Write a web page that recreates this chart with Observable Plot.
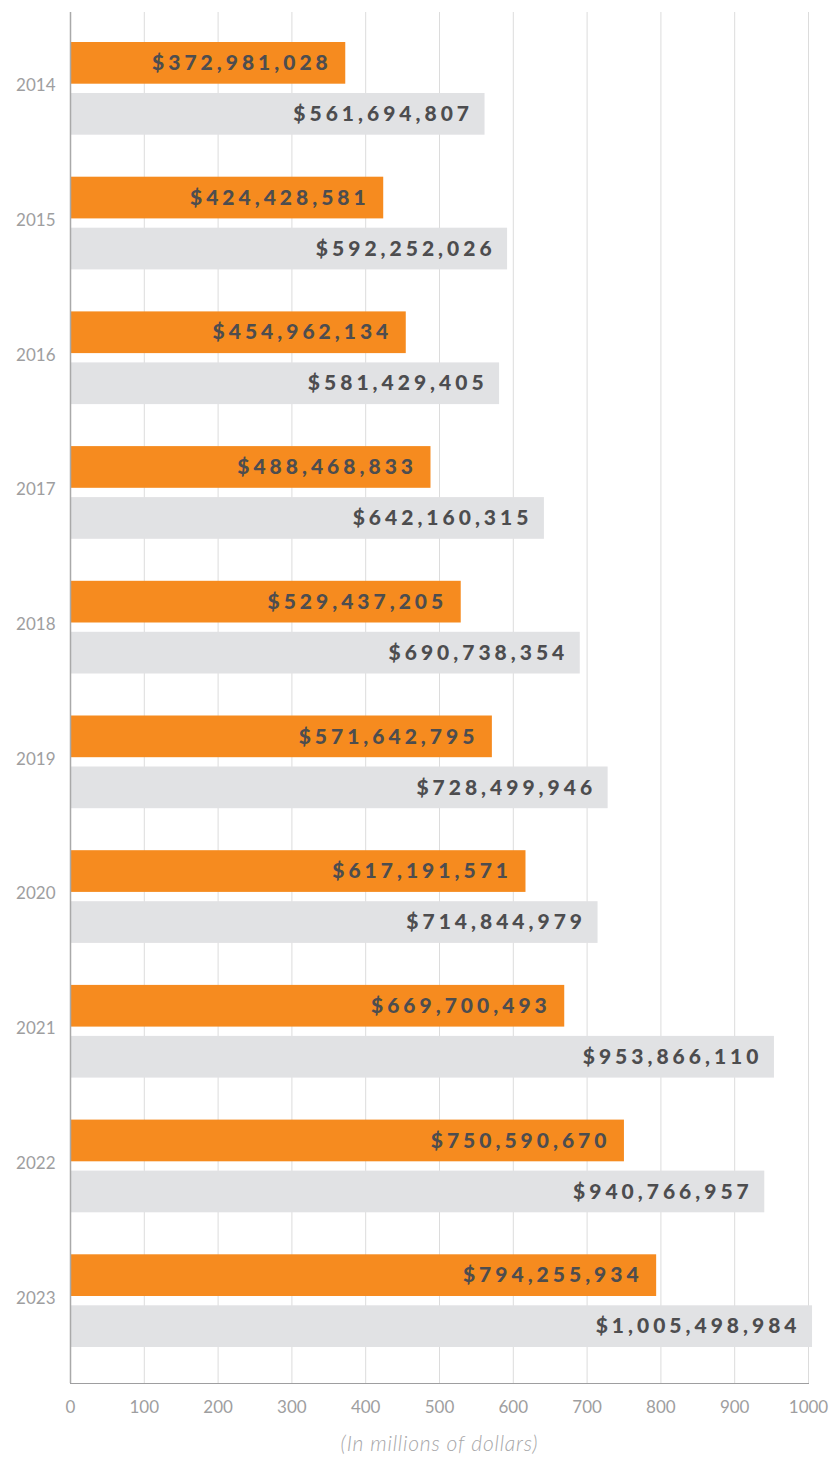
<!DOCTYPE html>
<html>
<head>
<meta charset="utf-8">
<script src="https://cdn.jsdelivr.net/npm/d3@7"></script>
<script src="https://cdn.jsdelivr.net/npm/@observablehq/plot@0.6"></script>
<style>
  html, body { margin: 0; padding: 0; background: #fff; }
  #chart svg { display: block; }
</style>
</head>
<body>
<div id="chart"></div>
<script>
const years = ["2014","2015","2016","2017","2018","2019","2020","2021","2022","2023"];
const orangeValues = [372981028, 424428581, 454962134, 488468833, 529437205, 571642795, 617191571, 669700493, 750590670, 794255934];
const grayValues = [561694807, 592252026, 581429405, 642160315, 690738354, 728499946, 714844979, 953866110, 940766957, 1005498984];
const xTicks = [0, 100, 200, 300, 400, 500, 600, 700, 800, 900, 1000];
const caption = "(In millions of dollars)";

const rows = years.map((year, i) => ({year, orange: orangeValues[i] / 1e6, gray: grayValues[i] / 1e6, orangeLabel: "$" + d3.format(",")(orangeValues[i]), grayLabel: "$" + d3.format(",")(grayValues[i])}));

const W = 832, H = 1457;
const chart = Plot.plot({
  width: W,
  height: H,
  marginLeft: 70,
  marginRight: 24,
  marginTop: 12,
  marginBottom: 74,
  style: {fontFamily: "Lato, 'Noto Sans', sans-serif", fontSize: "17px", color: "#9e9ea0", background: "#fff"},
  x: {domain: [0, 1000], ticks: xTicks, tickFormat: d => String(d), tickSize: 0, tickPadding: 17, label: null, line: true},
  y: {domain: years, padding: 0, round: false, insetTop: 9, insetBottom: 15, tickSize: 0, tickPadding: 15, label: null},
  marks: [
    Plot.ruleX(xTicks, {stroke: "#dcdcdc", strokeWidth: 1}),
    Plot.barX(rows, {x: "orange", y: "year", fill: "#f68b1f", insetTop: 21, insetBottom: 72}),
    Plot.barX(rows, {x: "gray", y: "year", fill: "#e1e2e4", insetTop: 72, insetBottom: 21}),
    Plot.ruleX([0], {stroke: "#a9a9a9", strokeWidth: 1.5}),
    Plot.text(rows, {x: "orange", y: "year", text: "orangeLabel", textAnchor: "end", dx: -14, dy: -25.5, fill: "#4d4d4f", fontWeight: 900, fontSize: 21}),
    Plot.text(rows, {x: "gray", y: "year", text: "grayLabel", textAnchor: "end", dx: -12, dy: 25.5, fill: "#4d4d4f", fontWeight: 900, fontSize: 21}),
    Plot.text([caption], {frameAnchor: "bottom", dy: 67, fill: "#a7a7a9", fontStyle: "italic", fontSize: 21})
  ]
});
document.getElementById("chart").appendChild(chart);
const svg = d3.select(chart);
const textGroups = svg.selectAll('g[aria-label="text"]').nodes();
textGroups.slice(0, 2).forEach(g => d3.select(g).selectAll("text").style("letter-spacing", "4px"));
d3.select(textGroups[2]).selectAll("text").style("letter-spacing", "0.8px").attr("font-weight", 300);
svg.selectAll('g[aria-label^="y-axis"], g[aria-label^="x-axis"]').attr("font-size", 17);
svg.selectAll('g[aria-label="y-axis tick label"] text').attr("dy", "-0.18em");
svg.selectAll('g[aria-label^="x-axis"] path, g[aria-label^="x-axis"] line').attr("stroke", "#a9a9a9").attr("stroke-width", 1.5).attr("stroke-opacity", 1);
</script>
</body>
</html>
